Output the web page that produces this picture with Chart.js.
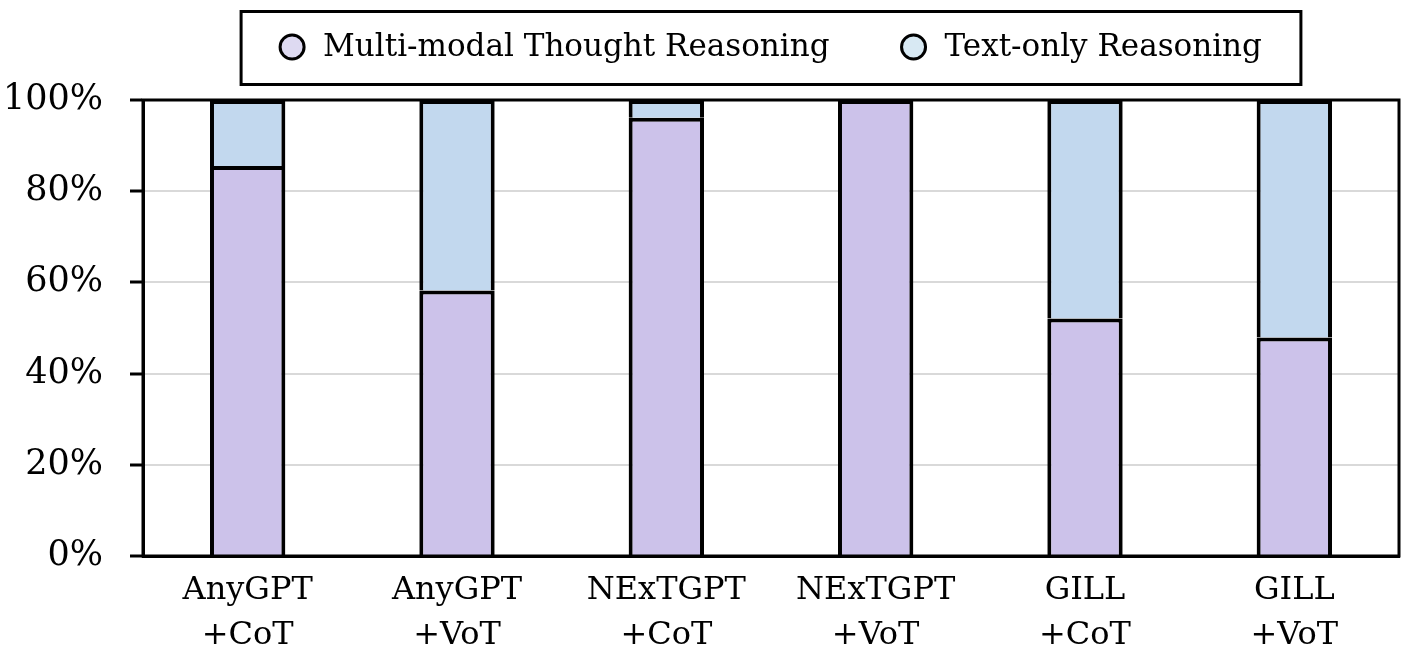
<!DOCTYPE html>
<html>
<head>
<meta charset="utf-8">
<script src="https://cdn.jsdelivr.net/npm/chart.js@4.4.1/dist/chart.umd.min.js"></script>
<style>
  html, body { margin: 0; padding: 0; background: #ffffff; }
  #wrap { width: 1411px; height: 651px; }
</style>
</head>
<body>
<div id="wrap"><canvas id="c" width="1411" height="651"></canvas></div>
<script>
// ---- data ----
const categories = [
  ["AnyGPT", "+CoT"],
  ["AnyGPT", "+VoT"],
  ["NExTGPT", "+CoT"],
  ["NExTGPT", "+VoT"],
  ["GILL", "+CoT"],
  ["GILL", "+VoT"]
];
const seriesNames = ["Multi-modal Thought Reasoning", "Text-only Reasoning"];
const multiModal = [85.5, 58.2, 96.1, 100, 52.1, 47.9];
const textOnly = [14.5, 41.8, 3.9, 0, 47.9, 52.1];
const yTicks = [0, 20, 40, 60, 80, 100];

// ---- styles ----
const FONT = "'DejaVu Serif', 'Liberation Serif', serif";
const barColors = ["#ccc2ea", "#c2d8ee"];
const legendFill = ["#dedaf1", "#d8e9f3"];

// plot frame (top & right borders)
const framePlugin = {
  id: 'frame',
  afterDatasetsDraw(chart) {
    const a = chart.chartArea, ctx = chart.ctx;
    ctx.save();
    ctx.strokeStyle = '#000';
    ctx.lineWidth = 3;
    ctx.strokeRect(a.left, a.top, a.right - a.left, a.bottom - a.top);
    ctx.restore();
  }
};

// boxed legend with circular markers
const boxedLegend = {
  id: 'boxedLegend',
  afterDraw(chart) {
    const ctx = chart.ctx, a = chart.chartArea;
    ctx.save();
    ctx.font = "31px " + FONT;
    ctx.textBaseline = 'middle';
    ctx.fillStyle = '#000';
    const r = 12, gap = 19, spacing = 72;
    const widths = seriesNames.map(t => ctx.measureText(t).width);
    let total = 0;
    widths.forEach((w, i) => { total += 2 * r + gap + w + (i < widths.length - 1 ? spacing : 0); });
    const cx = (a.left + a.right) / 2;
    let x = cx - total / 2;
    const cy = 47;
    const padX = 39;
    ctx.lineWidth = 3;
    ctx.strokeStyle = '#000';
    ctx.strokeRect(x - padX, 11.5, total + 2 * padX, 73);
    seriesNames.forEach((t, i) => {
      ctx.beginPath();
      ctx.arc(x + r, cy, r, 0, Math.PI * 2);
      ctx.fillStyle = legendFill[i];
      ctx.fill();
      ctx.lineWidth = 3;
      ctx.strokeStyle = '#000';
      ctx.stroke();
      ctx.fillStyle = '#000';
      ctx.fillText(t, x + 2 * r + gap, cy + 1);
      x += 2 * r + gap + widths[i] + spacing;
    });
    ctx.restore();
  }
};

new Chart(document.getElementById('c'), {
  type: 'bar',
  data: {
    labels: categories,
    datasets: [
      {
        label: seriesNames[0],
        data: multiModal,
        backgroundColor: barColors[0],
        borderColor: '#000',
        borderWidth: 4
      },
      {
        label: seriesNames[1],
        data: textOnly,
        backgroundColor: barColors[1],
        borderColor: '#000',
        borderWidth: 4
      }
    ]
  },
  options: {
    responsive: false,
    animation: false,
    devicePixelRatio: 1,
    layout: { padding: { top: 100, right: 12, bottom: 0, left: 4 } },
    datasets: { bar: { categoryPercentage: 1, barPercentage: 0.36 } },
    plugins: {
      legend: { display: false },
      tooltip: { enabled: false }
    },
    scales: {
      x: {
        stacked: true,
        afterFit(scale) { scale.height = 95; },
        grid: { display: false, drawTicks: false },
        border: { display: true, color: '#000', width: 3 },
        ticks: {
          color: '#000',
          padding: 13,
          font: { family: FONT, size: 32, lineHeight: 1.38 },
          maxRotation: 0,
          autoSkip: false
        }
      },
      y: {
        stacked: true,
        min: 0,
        max: 100,
        afterBuildTicks(scale) { scale.ticks = yTicks.map(v => ({ value: v })); },
        afterFit(scale) { scale.width = 139; },
        grid: {
          color: '#d9d9d9',
          lineWidth: 2,
          drawTicks: true,
          tickLength: 13,
          tickColor: '#000',
          tickWidth: 3
        },
        border: { display: true, color: '#000', width: 3 },
        ticks: {
          color: '#000',
          padding: 27,
          font: { family: FONT, size: 35 },
          callback: v => v + '%'
        }
      }
    }
  },
  plugins: [framePlugin, boxedLegend]
});
</script>
</body>
</html>
